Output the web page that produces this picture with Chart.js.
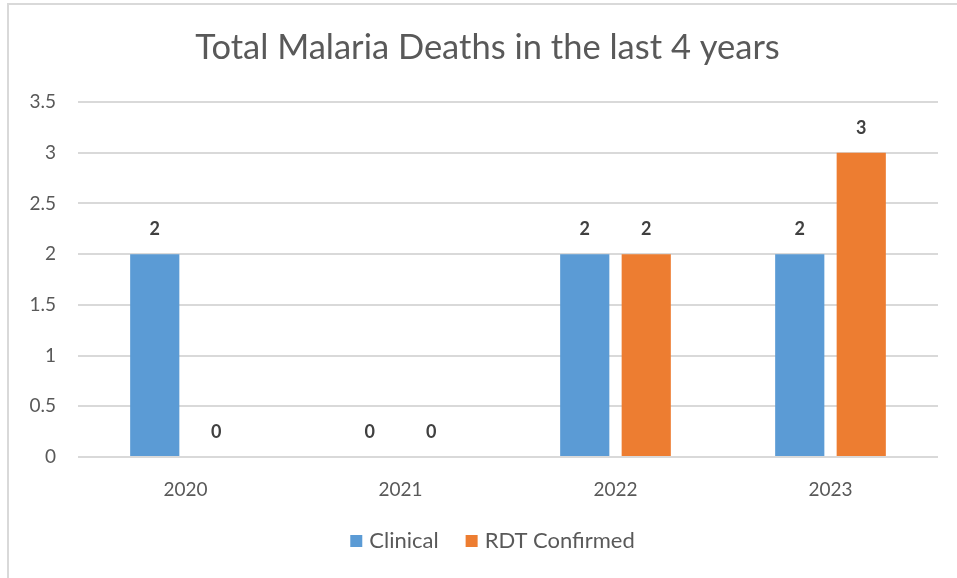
<!DOCTYPE html>
<html>
<head>
<meta charset="utf-8">
<script src="https://cdn.jsdelivr.net/npm/chart.js@4.4.1/dist/chart.umd.min.js"></script>
<style>
    html, body { margin: 0; padding: 0; background: #fff; }
    #wrap {
        position: absolute; left: 0; top: 0; width: 957px; height: 578px;
    }
    #frame {
        position: absolute; left: 7px; top: 3px; right: 0; bottom: 0;
        border-left: 2px solid #d9d9d9; border-top: 2px solid #d9d9d9;
    }
    canvas { position: absolute; left: 0; top: 0; }
</style>
</head>
<body>
<div id="wrap">
    <div id="frame"></div>
    <canvas id="deathsChart" width="957" height="578"></canvas>
</div>
<script>
const years = ['2020', '2021', '2022', '2023'];
const clinical = [2, 0, 2, 2];
const rdtConfirmed = [0, 0, 2, 3];
const yTicks = [0, 0.5, 1, 1.5, 2, 2.5, 3, 3.5];
const seriesNames = ['Clinical', 'RDT Confirmed'];
const seriesColors = ['#5b9bd5', '#ed7d31'];
const chartTitle = 'Total Malaria Deaths in the last 4 years';

const FONT = 'Lato, "Open Sans", sans-serif';
const TEXT = '#595959';

// bold value labels above each bar
const valueLabels = {
    id: 'valueLabels',
    afterDatasetsDraw(chart) {
        const ctx = chart.ctx;
        ctx.save();
        ctx.font = 'bold 18px ' + FONT;
        ctx.fillStyle = '#404040';
        ctx.textAlign = 'center';
        ctx.textBaseline = 'middle';
        chart.data.datasets.forEach((ds, i) => {
            chart.getDatasetMeta(i).data.forEach((bar, j) => {
                ctx.fillText(String(ds.data[j]), bar.x, bar.y - 25);
            });
        });
        ctx.restore();
    }
};

// title and legend, placed like the Excel original (slightly right of canvas centre)
const headerFooter = {
    id: 'headerFooter',
    afterDraw(chart) {
        const ctx = chart.ctx;
        const cx = 490;
        ctx.save();
        ctx.fillStyle = TEXT;
        ctx.textBaseline = 'middle';

        ctx.font = '34.5px ' + FONT;
        ctx.textAlign = 'center';
        ctx.fillText(chartTitle, 487.5, 48);

        // legend
        ctx.font = '22px ' + FONT;
        ctx.textAlign = 'left';
        const box = 12, gap = 7, itemGap = 27;
        const widths = chart.data.datasets.map(ds => ctx.measureText(ds.label).width);
        let total = 0;
        widths.forEach((w, i) => { total += box + gap + w + (i ? itemGap : 0); });
        let x = cx + 2.5 - total / 2;
        const y = 541;
        chart.data.datasets.forEach((ds, i) => {
            ctx.fillStyle = ds.backgroundColor;
            ctx.fillRect(x, y - box / 2, box, box);
            ctx.fillStyle = TEXT;
            ctx.fillText(ds.label, x + box + gap, y);
            x += box + gap + widths[i] + itemGap;
        });
        ctx.restore();
    }
};

const ctx = document.getElementById('deathsChart').getContext('2d');
new Chart(ctx, {
    type: 'bar',
    data: {
        labels: years,
        datasets: [{
            label: seriesNames[0],
            data: clinical,
            backgroundColor: seriesColors[0]
        }, {
            label: seriesNames[1],
            data: rdtConfirmed,
            backgroundColor: seriesColors[1]
        }]
    },
    options: {
        responsive: false,
        animation: false,
        categoryPercentage: 0.572,
        barPercentage: 0.8,
        layout: {
            padding: { left: 0, right: 19, top: 102, bottom: 62 }
        },
        scales: {
            x: {
                grid: { display: false },
                border: { display: false },
                ticks: { color: TEXT, font: { family: FONT, size: 19 }, padding: 13 },
                afterFit: (scale) => { scale.height = 59; }
            },
            y: {
                min: 0,
                max: 3.5,
                afterBuildTicks: (scale) => { scale.ticks = yTicks.map(v => ({ value: v })); },
                grid: { color: '#d9d9d9', lineWidth: 2, drawTicks: false },
                border: { display: false },
                ticks: {
                    color: TEXT,
                    font: { family: FONT, size: 19 },
                    padding: 22,
                    callback: (v) => String(v)
                },
                afterFit: (scale) => { scale.width = 78; }
            }
        },
        plugins: {
            title: { display: false },
            legend: { display: false },
            tooltip: { enabled: false }
        }
    },
    plugins: [valueLabels, headerFooter]
});
</script>
</body>
</html>
